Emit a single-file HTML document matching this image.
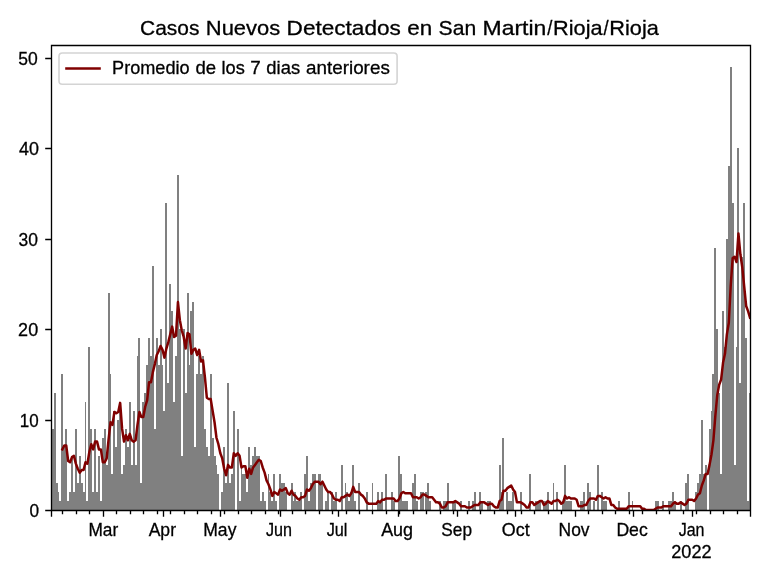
<!DOCTYPE html>
<html><head><meta charset="utf-8"><title>Casos Nuevos</title>
<style>
html,body{margin:0;padding:0;background:#fff;}
body{width:768px;height:576px;overflow:hidden;font-family:"Liberation Sans",sans-serif;}
svg{display:block;}
text{font-family:"Liberation Sans",sans-serif;fill:#000;stroke:#000;stroke-width:0.3px;}
</style></head><body>
<svg width="768" height="576" viewBox="0 0 768 576">
<rect width="768" height="576" fill="#fff"/>
<clipPath id="c"><rect x="51.5" y="45.5" width="699" height="465"/></clipPath>
<g clip-path="url(#c)">
<path d="M52 511V429H54V511zM54 511V393H56V511zM56 511V483H58V511zM58 511V492H59V511zM59 511V501H61V511zM61 511V374H63V511zM63 511V447H65V511zM65 511V429H67V511zM67 511V501H69V511zM69 511V492H71V511zM71 511V456H73V511zM73 511V492H75V511zM75 511V429H77V511zM77 511V483H79V511zM79 511V456H81V511zM81 511V483H83V511zM83 511V492H85V511zM85 511V402H86V511zM86 511V501H88V511zM88 511V347H90V511zM90 511V429H92V511zM92 511V492H94V511zM94 511V429H96V511zM96 511V492H98V511zM98 511V456H100V511zM100 511V501H102V511zM102 511V438H104V511zM104 511V429H106V511zM106 511V465H108V511zM108 511V293H110V511zM110 511V374H111V511zM111 511V474H113V511zM113 511V411H115V511zM115 511V447H117V511zM117 511V420H119V511zM119 511V402H121V511zM121 511V474H123V511zM123 511V465H125V511zM125 511V429H127V511zM127 511V447H129V511zM129 511V402H131V511zM131 511V465H133V511zM133 511V411H135V511zM135 511V465H137V511zM137 511V356H138V511zM138 511V338H140V511zM140 511V483H142V511zM142 511V402H144V511zM144 511V393H146V511zM146 511V365H148V511zM148 511V338H150V511zM150 511V356H152V511zM152 511V266H154V511zM154 511V429H156V511zM156 511V338H158V511zM158 511V365H160V511zM160 511V329H162V511zM162 511V365H163V511zM163 511V411H165V511zM165 511V203H167V511zM167 511V383H169V511zM169 511V284H171V511zM171 511V311H173V511zM173 511V402H175V511zM175 511V356H177V511zM177 511V175H179V511zM179 511V329H181V511zM181 511V456H183V511zM183 511V329H185V511zM185 511V393H187V511zM187 511V293H189V511zM189 511V365H190V511zM190 511V311H192V511zM192 511V302H194V511zM194 511V447H196V511zM196 511V374H198V511zM198 511V356H200V511zM200 511V374H202V511zM202 511V356H204V511zM204 511V429H206V511zM206 511V447H208V511zM208 511V456H210V511zM210 511V374H212V511zM212 511V438H214V511zM214 511V456H216V511zM216 511V465H217V511zM217 511V474H219V511zM221 511V492H223V511zM223 511V447H225V511zM225 511V483H227V511zM227 511V383H229V511zM229 511V483H231V511zM231 511V474H233V511zM233 511V411H235V511zM237 511V429H239V511zM239 511V501H241V511zM241 511V465H242V511zM242 511V474H244V511zM244 511V474H246V511zM246 511V492H248V511zM248 511V447H250V511zM250 511V465H252V511zM252 511V456H254V511zM254 511V447H256V511zM256 511V456H258V511zM258 511V456H260V511zM260 511V501H262V511zM262 511V492H264V511zM264 511V501H266V511zM268 511V474H269V511zM269 511V492H271V511zM271 511V501H273V511zM273 511V474H275V511zM275 511V501H277V511zM279 511V474H281V511zM281 511V483H283V511zM283 511V483H285V511zM285 511V492H287V511zM291 511V483H293V511zM293 511V501H294V511zM294 511V492H296V511zM296 511V501H298V511zM298 511V501H300V511zM300 511V492H302V511zM304 511V474H306V511zM306 511V456H308V511zM308 511V501H310V511zM310 511V483H312V511zM312 511V474H314V511zM314 511V474H316V511zM318 511V474H320V511zM320 511V474H321V511zM321 511V483H323V511zM325 511V501H327V511zM327 511V492H329V511zM331 511V492H333V511zM333 511V501H335V511zM335 511V492H337V511zM341 511V465H343V511zM345 511V483H346V511zM346 511V492H348V511zM348 511V501H350V511zM350 511V492H352V511zM352 511V465H354V511zM354 511V501H356V511zM358 511V483H360V511zM366 511V492H368V511zM372 511V483H373V511zM377 511V492H379V511zM379 511V501H381V511zM381 511V492H383V511zM385 511V474H387V511zM391 511V492H393V511zM393 511V501H395V511zM398 511V456H400V511zM400 511V474H402V511zM402 511V501H404V511zM404 511V501H406V511zM406 511V501H408V511zM412 511V483H414V511zM414 511V474H416V511zM416 511V501H418V511zM420 511V492H422V511zM422 511V492H424V511zM425 511V492H427V511zM427 511V483H429V511zM429 511V501H431V511zM439 511V501H441V511zM443 511V501H445V511zM445 511V501H447V511zM447 511V483H449V511zM452 511V501H454V511zM454 511V501H456V511zM460 511V501H462V511zM468 511V501H470V511zM472 511V501H474V511zM474 511V492H476V511zM479 511V492H481V511zM481 511V501H483V511zM487 511V501H489V511zM489 511V501H491V511zM499 511V465H501V511zM501 511V492H502V511zM502 511V438H504V511zM506 511V492H508V511zM508 511V501H510V511zM510 511V501H512V511zM512 511V492H514V511zM520 511V492H522V511zM529 511V474H531V511zM535 511V501H537V511zM537 511V501H539V511zM539 511V501H541V511zM543 511V501H545V511zM545 511V501H547V511zM547 511V492H549V511zM553 511V483H554V511zM556 511V492H558V511zM562 511V501H564V511zM564 511V465H566V511zM566 511V501H568V511zM568 511V501H570V511zM570 511V501H572V511zM580 511V501H581V511zM581 511V501H583V511zM583 511V492H585V511zM587 511V483H589V511zM589 511V492H591V511zM593 511V501H595V511zM597 511V465H599V511zM601 511V492H603V511zM603 511V501H605V511zM605 511V501H607V511zM618 511V501H620V511zM628 511V492H630V511zM632 511V501H633V511zM655 511V501H657V511zM657 511V501H659V511zM662 511V501H664V511zM668 511V501H670V511zM670 511V501H672V511zM672 511V492H674V511zM674 511V501H676V511zM680 511V501H682V511zM685 511V483H687V511zM687 511V474H689V511zM695 511V492H697V511zM697 511V483H699V511zM699 511V474H701V511zM701 511V420H703V511zM703 511V474H705V511zM705 511V465H707V511zM709 511V429H711V511zM711 511V411H712V511zM712 511V374H714V511zM714 511V248H716V511zM716 511V329H718V511zM718 511V393H720V511zM720 511V474H722V511zM722 511V311H724V511zM724 511V347H726V511zM726 511V239H728V511zM728 511V166H730V511zM730 511V67H732V511zM732 511V203H734V511zM734 511V465H736V511zM736 511V347H737V511zM737 511V148H739V511zM739 511V383H741V511zM741 511V257H743V511zM743 511V203H745V511zM745 511V338H747V511zM747 511V501H749V511zM749 511V393H751V511z" fill="#808080" shape-rendering="crispEdges"/>
<path d="M62.38 449.38 L64.31 445.50 L66.23 445.50 L68.16 461.00 L70.08 462.30 L72.01 457.13 L73.94 455.84 L75.86 463.59 L77.79 468.76 L79.71 472.63 L81.64 470.05 L83.57 470.05 L85.49 462.30 L87.42 463.59 L89.34 451.96 L91.27 444.21 L93.20 449.38 L95.12 441.62 L97.05 441.62 L98.97 449.38 L100.90 449.38 L102.83 462.30 L104.75 462.30 L106.68 458.42 L108.61 439.04 L110.53 422.24 L112.46 424.83 L114.38 411.91 L116.31 413.20 L118.24 411.91 L120.16 402.86 L122.09 428.70 L124.01 441.62 L125.94 435.16 L127.87 440.33 L129.79 433.87 L131.72 440.33 L133.64 441.62 L135.57 440.33 L137.50 424.83 L139.42 411.91 L141.35 417.08 L143.28 417.08 L145.20 406.74 L147.13 400.28 L149.05 382.19 L150.98 382.19 L152.91 371.86 L154.83 364.10 L156.76 355.06 L158.68 351.18 L160.61 346.02 L162.54 349.89 L164.46 357.64 L166.39 348.60 L168.31 342.14 L170.24 334.39 L172.17 326.64 L174.09 336.97 L176.02 335.68 L177.95 302.09 L179.87 320.18 L181.80 330.51 L183.72 336.97 L185.65 348.60 L187.58 333.10 L189.50 334.39 L191.43 353.77 L193.35 349.89 L195.28 348.60 L197.21 355.06 L199.13 349.89 L201.06 361.52 L202.98 360.23 L204.91 377.02 L206.84 397.70 L208.76 398.99 L210.69 398.99 L212.61 410.62 L214.54 422.24 L216.47 437.75 L218.39 444.21 L220.32 453.25 L222.25 458.42 L224.17 468.76 L226.10 475.22 L228.02 464.88 L229.95 467.46 L231.88 467.46 L233.80 453.25 L235.73 455.84 L237.65 453.25 L239.58 455.84 L241.51 467.46 L243.43 466.17 L245.36 466.17 L247.28 477.80 L249.21 468.76 L251.14 473.92 L253.06 467.46 L254.99 464.88 L256.92 462.30 L258.84 459.71 L260.77 461.00 L262.69 467.46 L264.62 472.63 L266.55 480.38 L268.47 484.26 L270.40 489.43 L272.32 495.89 L274.25 492.01 L276.18 493.30 L278.10 494.60 L280.03 489.43 L281.95 490.72 L283.88 489.43 L285.81 488.14 L287.73 493.30 L289.66 494.60 L291.58 490.72 L293.51 494.60 L295.44 495.89 L297.36 498.47 L299.29 499.76 L301.22 497.18 L303.14 497.18 L305.07 495.89 L306.99 489.43 L308.92 490.72 L310.85 488.14 L312.77 484.26 L314.70 481.68 L316.62 481.68 L318.55 481.68 L320.48 484.26 L322.40 481.68 L324.33 485.55 L326.25 489.43 L328.18 492.01 L330.11 492.01 L332.03 494.60 L333.96 498.47 L335.89 499.76 L337.81 499.76 L339.74 501.06 L341.66 497.18 L343.59 497.18 L345.52 495.89 L347.44 494.60 L349.37 495.89 L351.29 493.30 L353.22 486.84 L355.15 492.01 L357.07 492.01 L359.00 492.01 L360.92 494.60 L362.85 495.89 L364.78 498.47 L366.70 502.35 L368.63 503.64 L370.56 503.64 L372.48 503.64 L374.41 503.64 L376.33 503.64 L378.26 501.06 L380.19 502.35 L382.11 499.76 L384.04 499.76 L385.96 498.47 L387.89 498.47 L389.82 498.47 L391.74 498.47 L393.67 498.47 L395.59 501.06 L397.52 501.06 L399.45 498.47 L401.37 493.30 L403.30 492.01 L405.22 493.30 L407.15 493.30 L409.08 493.30 L411.00 493.30 L412.93 497.18 L414.86 497.18 L416.78 497.18 L418.71 498.47 L420.63 497.18 L422.56 494.60 L424.49 494.60 L426.41 495.89 L428.34 497.18 L430.26 497.18 L432.19 497.18 L434.12 499.76 L436.04 502.35 L437.97 502.35 L439.89 503.64 L441.82 507.52 L443.75 507.52 L445.67 506.22 L447.60 502.35 L449.53 502.35 L451.45 502.35 L453.38 502.35 L455.30 501.06 L457.23 502.35 L459.16 503.64 L461.08 506.22 L463.01 506.22 L464.93 506.22 L466.86 507.52 L468.79 507.52 L470.71 507.52 L472.64 506.22 L474.56 504.93 L476.49 504.93 L478.42 504.93 L480.34 502.35 L482.27 502.35 L484.20 502.35 L486.12 503.64 L488.05 504.93 L489.97 503.64 L491.90 503.64 L493.83 506.22 L495.75 507.52 L497.68 507.52 L499.60 501.06 L501.53 499.76 L503.46 490.72 L505.38 490.72 L507.31 488.14 L509.23 486.84 L511.16 485.55 L513.09 489.43 L515.01 492.01 L516.94 502.35 L518.86 502.35 L520.79 502.35 L522.72 503.64 L524.64 504.93 L526.57 507.52 L528.50 507.52 L530.42 502.35 L532.35 502.35 L534.27 504.93 L536.20 503.64 L538.13 502.35 L540.05 501.06 L541.98 501.06 L543.90 504.93 L545.83 503.64 L547.76 501.06 L549.68 502.35 L551.61 503.64 L553.53 501.06 L555.46 501.06 L557.39 499.76 L559.31 501.06 L561.24 503.64 L563.17 502.35 L565.09 495.89 L567.02 498.47 L568.94 497.18 L570.87 498.47 L572.80 498.47 L574.72 498.47 L576.65 499.76 L578.57 506.22 L580.50 506.22 L582.43 506.22 L584.35 504.93 L586.28 504.93 L588.20 501.06 L590.13 498.47 L592.06 498.47 L593.98 498.47 L595.91 499.76 L597.84 495.89 L599.76 495.89 L601.69 497.18 L603.61 498.47 L605.54 497.18 L607.47 498.47 L609.39 498.47 L611.32 504.93 L613.24 504.93 L615.17 507.52 L617.10 508.81 L619.02 508.81 L620.95 508.81 L622.87 508.81 L624.80 508.81 L626.73 508.81 L628.65 506.22 L630.58 506.22 L632.50 506.22 L634.43 506.22 L636.36 506.22 L638.28 506.22 L640.21 506.22 L642.14 508.81 L644.06 508.81 L645.99 510.10 L647.91 510.10 L649.84 510.10 L651.77 510.10 L653.69 510.10 L655.62 508.81 L657.54 507.52 L659.47 507.52 L661.40 507.52 L663.32 506.22 L665.25 506.22 L667.17 506.22 L669.10 506.22 L671.03 506.22 L672.95 503.64 L674.88 502.35 L676.81 503.64 L678.73 503.64 L680.66 502.35 L682.58 503.64 L684.51 504.93 L686.44 503.64 L688.36 499.76 L690.29 499.76 L692.21 499.76 L694.14 501.06 L696.07 498.47 L697.99 494.60 L699.92 493.30 L701.84 485.55 L703.77 480.38 L705.70 473.92 L707.62 473.92 L709.55 464.88 L711.47 454.54 L713.40 440.33 L715.33 415.78 L717.25 395.11 L719.18 384.78 L721.11 379.61 L723.03 362.81 L724.96 353.77 L726.88 334.39 L728.81 322.76 L730.74 285.29 L732.66 258.16 L734.59 256.87 L736.51 262.04 L738.44 233.61 L740.37 254.28 L742.29 267.20 L744.22 286.58 L746.14 305.96 L748.07 311.13 L750.00 317.59" fill="none" stroke="#800000" stroke-width="2.5" stroke-linejoin="round" stroke-linecap="square"/>
</g>
<path d="M51.5 510.5v6.3M103.5 510.5v6.3M163.5 510.5v6.3M220.5 510.5v6.3M280.5 510.5v6.3M338.5 510.5v6.3M398.5 510.5v6.3M457.5 510.5v6.3M515.5 510.5v6.3M575.5 510.5v6.3M633.5 510.5v6.3M692.5 510.5v6.3M750.5 510.5v6.3M62.5 510.5v3.8M76.5 510.5v3.8M89.5 510.5v3.8M116.5 510.5v3.8M130.5 510.5v3.8M143.5 510.5v3.8M157.5 510.5v3.8M170.5 510.5v3.8M184.5 510.5v3.8M197.5 510.5v3.8M211.5 510.5v3.8M224.5 510.5v3.8M238.5 510.5v3.8M251.5 510.5v3.8M265.5 510.5v3.8M278.5 510.5v3.8M292.5 510.5v3.8M305.5 510.5v3.8M319.5 510.5v3.8M332.5 510.5v3.8M346.5 510.5v3.8M359.5 510.5v3.8M372.5 510.5v3.8M386.5 510.5v3.8M399.5 510.5v3.8M413.5 510.5v3.8M426.5 510.5v3.8M440.5 510.5v3.8M453.5 510.5v3.8M467.5 510.5v3.8M480.5 510.5v3.8M494.5 510.5v3.8M507.5 510.5v3.8M521.5 510.5v3.8M534.5 510.5v3.8M548.5 510.5v3.8M561.5 510.5v3.8M588.5 510.5v3.8M602.5 510.5v3.8M615.5 510.5v3.8M629.5 510.5v3.8M642.5 510.5v3.8M656.5 510.5v3.8M669.5 510.5v3.8M683.5 510.5v3.8M696.5 510.5v3.8M710.5 510.5v3.8M723.5 510.5v3.8M737.5 510.5v3.8M51.5 510.5H45.2M51.5 420.5H45.2M51.5 329.5H45.2M51.5 239.5H45.2M51.5 148.5H45.2M51.5 58.5H45.2M51.5 45.5H750.5V510.5H51.5z" fill="none" stroke="#000" stroke-width="1.333" stroke-linejoin="miter"/>
<rect x="59" y="53" width="338.1" height="31.3" rx="3.3" ry="3.3" fill="#fff" fill-opacity="0.8" stroke="#d4d4d4" stroke-width="1.6"/>
<path d="M65.2 68.5H100.8" stroke="#800000" stroke-width="2.5"/>
<g style="filter:grayscale(1)"><text x="140.14" y="34.5" font-size="20.6px" textLength="59.3" lengthAdjust="spacingAndGlyphs">Casos</text><text x="205.79" y="34.5" font-size="20.6px" textLength="74.43" lengthAdjust="spacingAndGlyphs">Nuevos</text><text x="286.59" y="34.5" font-size="20.6px" textLength="114.3" lengthAdjust="spacingAndGlyphs">Detectados</text><text x="407.24" y="34.5" font-size="20.6px" textLength="24.98" lengthAdjust="spacingAndGlyphs">en</text><text x="438.58" y="34.5" font-size="20.6px" textLength="37.63" lengthAdjust="spacingAndGlyphs">San</text><text x="482.57" y="34.5" font-size="20.6px" textLength="63.81" lengthAdjust="spacingAndGlyphs">Martin</text><text x="547.19" y="34.5" font-size="20.6px" textLength="5.12" lengthAdjust="spacingAndGlyphs">/</text><text x="553.12" y="34.5" font-size="20.6px" textLength="49.5" lengthAdjust="spacingAndGlyphs">Rioja</text><text x="603.43" y="34.5" font-size="20.6px" textLength="5.12" lengthAdjust="spacingAndGlyphs">/</text><text x="609.36" y="34.5" font-size="20.6px" textLength="49.5" lengthAdjust="spacingAndGlyphs">Rioja</text><text x="112.09" y="73.9" font-size="18.2px" textLength="77.56" lengthAdjust="spacingAndGlyphs">Promedio</text><text x="195.44" y="73.9" font-size="18.2px" textLength="20.63" lengthAdjust="spacingAndGlyphs">de</text><text x="221.59" y="73.9" font-size="18.2px" textLength="23.28" lengthAdjust="spacingAndGlyphs">los</text><text x="250.33" y="73.9" font-size="18.2px" textLength="10.5" lengthAdjust="spacingAndGlyphs">7</text><text x="266.35" y="73.9" font-size="18.2px" textLength="33.77" lengthAdjust="spacingAndGlyphs">dias</text><text x="306.01" y="73.9" font-size="18.2px" textLength="83.82" lengthAdjust="spacingAndGlyphs">anteriores</text><text x="88.47" y="535.9" font-size="18.2px" textLength="29.78" lengthAdjust="spacingAndGlyphs">Mar</text><text x="148.63" y="535.9" font-size="18.2px" textLength="27.37" lengthAdjust="spacingAndGlyphs">Apr</text><text x="203.25" y="535.9" font-size="18.2px" textLength="33.15" lengthAdjust="spacingAndGlyphs">May</text><text x="266.0" y="535.9" font-size="18.2px" textLength="26.02" lengthAdjust="spacingAndGlyphs">Jun</text><text x="326.63" y="535.9" font-size="18.2px" textLength="20.76" lengthAdjust="spacingAndGlyphs">Jul</text><text x="381.15" y="535.9" font-size="18.2px" textLength="31.89" lengthAdjust="spacingAndGlyphs">Aug</text><text x="441.31" y="535.9" font-size="18.2px" textLength="30.71" lengthAdjust="spacingAndGlyphs">Sep</text><text x="501.82" y="535.9" font-size="18.2px" textLength="27.84" lengthAdjust="spacingAndGlyphs">Oct</text><text x="558.55" y="535.9" font-size="18.2px" textLength="31.0" lengthAdjust="spacingAndGlyphs">Nov</text><text x="616.38" y="535.9" font-size="18.2px" textLength="31.32" lengthAdjust="spacingAndGlyphs">Dec</text><text x="678.64" y="535.9" font-size="18.2px" textLength="25.8" lengthAdjust="spacingAndGlyphs">Jan</text><text x="671.29" y="557.6" font-size="18.2px" textLength="40.36" lengthAdjust="spacingAndGlyphs">2022</text><text x="29.39" y="516.95" font-size="18.2px" textLength="9.59" lengthAdjust="spacingAndGlyphs">0</text><text x="19.75" y="426.95" font-size="18.2px" textLength="18.87" lengthAdjust="spacingAndGlyphs">10</text><text x="18.11" y="335.95" font-size="18.2px" textLength="20.04" lengthAdjust="spacingAndGlyphs">20</text><text x="18.43" y="245.95" font-size="18.2px" textLength="19.42" lengthAdjust="spacingAndGlyphs">30</text><text x="19.02" y="154.95" font-size="18.2px" textLength="19.91" lengthAdjust="spacingAndGlyphs">40</text><text x="18.24" y="64.95" font-size="18.2px" textLength="19.49" lengthAdjust="spacingAndGlyphs">50</text></g>
</svg>
</body></html>
